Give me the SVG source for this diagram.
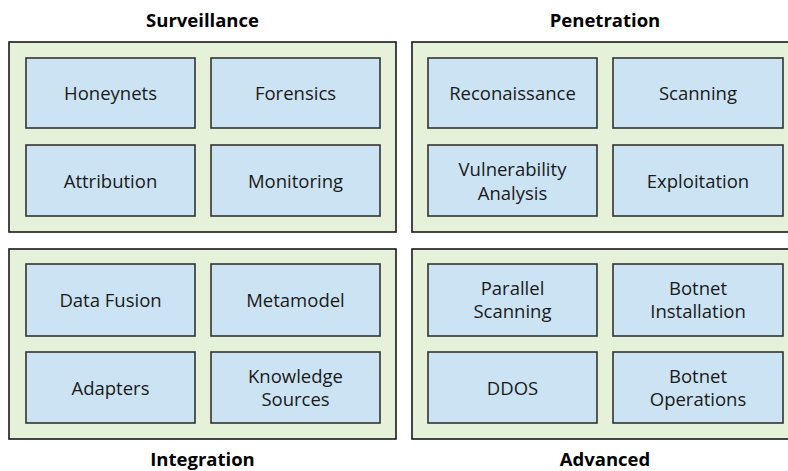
<svg xmlns="http://www.w3.org/2000/svg" width="788" height="471" viewBox="0 0 788 471">
<style>
.grp{fill:#e6f1d9;stroke:#1a1a1a;stroke-width:1.6}
.box{fill:#cce3f3;stroke:#333;stroke-width:1.6}
.t{font-family:"Open Sans","Liberation Sans",sans-serif;font-size:18.5px;fill:#1a1a1a;text-anchor:middle}
.h{font-family:"Open Sans","Liberation Sans",sans-serif;font-size:18.5px;font-weight:bold;fill:#000;text-anchor:middle}
</style>
<rect width="788" height="471" fill="#fff"/>
<g id="surveillance">
<rect class="grp" x="9" y="42" width="387" height="190"/>
<text class="h" x="202.5" y="26.5">Surveillance</text>
</g>
<g id="penetration">
<rect class="grp" x="412" y="42" width="388" height="190"/>
<text class="h" x="605" y="26.5">Penetration</text>
</g>
<g id="integration">
<rect class="grp" x="9" y="249" width="387" height="190"/>
<text class="h" x="202.5" y="465.5">Integration</text>
</g>
<g id="advanced">
<rect class="grp" x="412" y="249" width="388" height="190"/>
<text class="h" x="605" y="465.5">Advanced</text>
</g>
<g id="honeynets"><rect class="box" x="26" y="58" width="169" height="70"/><text class="t" x="110.5" y="100">Honeynets</text></g>
<g id="forensics"><rect class="box" x="211" y="58" width="169" height="70"/><text class="t" x="295.5" y="100">Forensics</text></g>
<g id="attribution"><rect class="box" x="26" y="145" width="169" height="71"/><text class="t" x="110.5" y="187.5">Attribution</text></g>
<g id="monitoring"><rect class="box" x="211" y="145" width="169" height="71"/><text class="t" x="295.5" y="187.5">Monitoring</text></g>
<g id="reconaissance"><rect class="box" x="428" y="58" width="169" height="70"/><text class="t" x="512.5" y="100">Reconaissance</text></g>
<g id="scanning"><rect class="box" x="613" y="58" width="170" height="70"/><text class="t" x="698" y="100">Scanning</text></g>
<g id="vulnerability"><rect class="box" x="428" y="145" width="169" height="71"/><text class="t" x="512.5" y="176">Vulnerability</text><text class="t" x="512.5" y="199.5">Analysis</text></g>
<g id="exploitation"><rect class="box" x="613" y="145" width="170" height="71"/><text class="t" x="698" y="187.5">Exploitation</text></g>
<g id="datafusion"><rect class="box" x="26" y="264" width="169" height="72"/><text class="t" x="110.5" y="306.5">Data Fusion</text></g>
<g id="metamodel"><rect class="box" x="211" y="264" width="169" height="72"/><text class="t" x="295.5" y="306.5">Metamodel</text></g>
<g id="adapters"><rect class="box" x="26" y="352" width="169" height="71"/><text class="t" x="110.5" y="394.5">Adapters</text></g>
<g id="knowledge"><rect class="box" x="211" y="352" width="169" height="71"/><text class="t" x="295.5" y="382.5">Knowledge</text><text class="t" x="295.5" y="406">Sources</text></g>
<g id="parallel"><rect class="box" x="428" y="264" width="169" height="72"/><text class="t" x="512.5" y="294.5">Parallel</text><text class="t" x="512.5" y="318">Scanning</text></g>
<g id="botnetinstall"><rect class="box" x="613" y="264" width="170" height="72"/><text class="t" x="698" y="294.5">Botnet</text><text class="t" x="698" y="318">Installation</text></g>
<g id="ddos"><rect class="box" x="428" y="352" width="169" height="71"/><text class="t" x="512.5" y="394.5">DDOS</text></g>
<g id="botnetops"><rect class="box" x="613" y="352" width="170" height="71"/><text class="t" x="698" y="382.5">Botnet</text><text class="t" x="698" y="406">Operations</text></g>
<g id="connectors"></g>
</svg>
